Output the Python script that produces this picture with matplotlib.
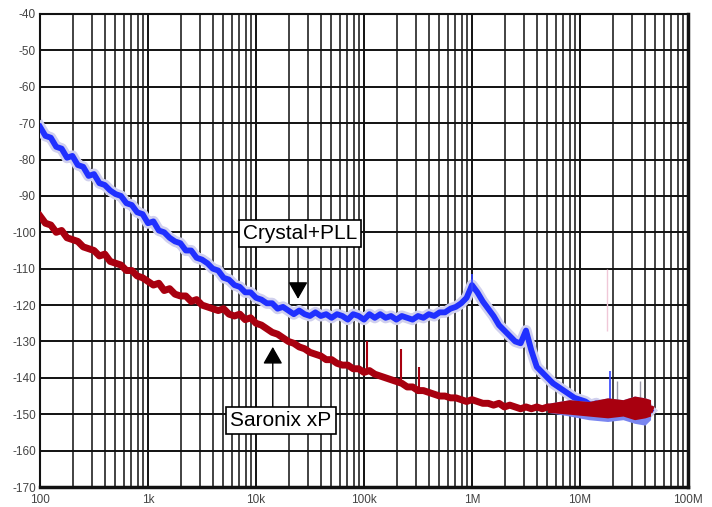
import numpy as np
import matplotlib
matplotlib.use("Agg")
import matplotlib.pyplot as plt
from matplotlib.ticker import FixedLocator, LogLocator, NullFormatter

plt.rcParams['font.family'] = ['Liberation Sans', 'DejaVu Sans']

# frequency grid, 1/20 decade steps from 100 Hz to ~45 MHz
log_f = np.round(np.arange(2.0, 7.651, 0.05), 2)
freqs = 10 ** log_f

# Crystal+PLL trace (dBc/Hz)
crystal_pll = [
    -71.0, -73.5, -74.0, -76.5, -77.0, -79.5, -79.0, -81.5, -82.0, -84.5,
    -84.0, -86.5, -87.0, -88.5, -89.5, -90.0, -92.0, -92.5, -94.5, -95.0,
    -97.5, -97.0, -99.5, -100.0, -101.5, -102.5, -103.0, -105.0, -105.0, -107.0,
    -107.5, -108.5, -110.0, -110.5, -112.5, -113.0, -114.5, -115.0, -116.5, -116.5,
    -118.0, -118.5, -119.5, -119.5, -121.0, -120.5, -121.5, -122.5, -121.5, -122.5,
    -123.0, -122.0, -123.0, -122.5, -123.5, -122.5, -123.0, -124.0, -122.5, -123.0,
    -124.0, -122.5, -123.5, -122.5, -123.5, -123.0, -124.0, -123.0, -123.5, -124.0,
    -123.0, -123.5, -122.5, -123.0, -122.0, -122.0, -121.0, -120.5, -119.5, -118.0,
    -114.5, -116.5, -119.0, -121.0, -123.0, -125.5, -127.0, -128.5, -130.0, -130.5,
    -127.0, -132.5, -137.0, -138.5, -140.0, -141.5, -142.5, -143.5, -144.5, -145.5,
    -146.0, -146.5, -147.5, -147.0, -148.5, -148.0, -149.0, -148.5, -150.0, -149.0,
    -150.0, -149.5, -150.5, -149.0,
]

# Saronix xP trace (dBc/Hz)
saronix = [
    -95.5, -97.5, -98.0, -100.0, -99.5, -101.5, -102.0, -102.5, -104.0, -104.5,
    -105.0, -106.5, -106.0, -108.0, -108.5, -109.0, -110.5, -110.5, -112.0, -112.5,
    -113.5, -114.5, -114.0, -116.0, -115.5, -117.0, -117.5, -117.5, -119.0, -118.5,
    -120.0, -120.5, -121.0, -121.5, -121.0, -122.5, -123.0, -122.5, -124.0, -123.5,
    -125.0, -125.5, -126.5, -127.5, -128.0, -129.0, -130.0, -130.5, -131.5, -132.0,
    -133.0, -133.5, -134.0, -135.0, -135.0, -136.0, -136.5, -136.5, -137.5, -137.5,
    -138.5, -138.0, -139.0, -139.5, -140.0, -140.5, -141.0, -141.5, -142.5, -142.5,
    -143.5, -143.5, -144.0, -144.5, -145.0, -145.0, -145.5, -145.5, -146.0, -146.5,
    -146.0, -146.5, -147.0, -147.0, -147.5, -147.0, -148.0, -147.5, -148.0, -148.5,
    -148.0, -148.5, -148.0, -148.5, -148.0, -148.5, -148.0, -148.5, -148.0, -148.5,
    -148.0, -149.0, -148.0, -148.5, -148.0, -149.0, -148.5, -148.0, -149.0, -148.0,
    -149.0, -148.5, -148.0, -148.5,
]

# wider noise band of both traces at the top end (5 MHz .. 45 MHz)
band_f = [5e6, 8e6, 12e6, 18e6, 25e6, 32e6, 40e6, 45e6]
red_band_hi = [-147.0, -146.0, -146.5, -145.5, -146.0, -145.0, -145.5, -146.0]
red_band_lo = [-149.5, -150.0, -150.5, -151.0, -150.5, -151.5, -151.0, -150.5]
blue_band_lo = [-149.5, -150.5, -151.5, -152.0, -151.5, -152.5, -153.0, -151.5]

# spurs
red_spur_f = [107e3, 220e3, 320e3]
red_spur_base = [-138.5, -141.0, -143.0]
red_spur_top = [-130.0, -132.0, -137.0]
blue_spur_f = [1.0e6, 19e6]
blue_spur_base = [-116.0, -148.0]
blue_spur_top = [-111.5, -138.0]
grey_spur_f = [22e6, 36e6]
grey_spur_base = [-148.0, -148.5]
grey_spur_top = [-141.0, -141.0]
pink_f = [17.6e6]
pink_lo = [-127.0]
pink_hi = [-110.0]

xticks = [1e2, 1e3, 1e4, 1e5, 1e6, 1e7, 1e8]
xticklabels = ['100', '1k', '10k', '100k', '1M', '10M', '100M']
yticks = list(range(-170, -39, 10))

fig = plt.figure(figsize=(7.12, 5.07), dpi=100)
ax = fig.add_axes([40 / 712, 1 - 487 / 507, 648 / 712, 473 / 507])

ax.set_xscale('log')
ax.set_xlim(1e2, 1e8)
ax.set_ylim(-170, -40)

ax.xaxis.set_major_locator(FixedLocator(xticks))
ax.xaxis.set_minor_locator(LogLocator(base=10, subs=np.arange(2, 10)))
ax.xaxis.set_minor_formatter(NullFormatter())
ax.set_xticklabels(xticklabels)
ax.set_yticks(yticks)
ax.set_yticklabels([str(v) for v in yticks])

ax.grid(True, which='major', color='#111111', lw=1.4)
ax.grid(True, which='minor', axis='x', color='#222222', lw=1.2)
ax.set_axisbelow(True)
ax.tick_params(which='both', length=0, labelsize=8.5, colors='#444444')
ax.tick_params(axis='x', pad=5)
ax.tick_params(axis='y', pad=3)
for s in ax.spines.values():
    s.set_color('#111111')
    s.set_linewidth(1.5)
ax.spines['bottom'].set_linewidth(2.5)
ax.spines['right'].set_linewidth(2.5)

# Crystal+PLL: light halo then blue trace
ax.plot(freqs, crystal_pll, color='#d0d0ee', lw=8, zorder=3)
ax.plot(freqs, crystal_pll, color='#2030ff', lw=4.2, zorder=4)
ax.fill_between(band_f, blue_band_lo, red_band_hi, color='#7a86f0', lw=0, zorder=4)
ax.vlines(blue_spur_f, blue_spur_base, blue_spur_top, color='#3344ff', lw=1.2, zorder=4)
ax.vlines(grey_spur_f, grey_spur_base, grey_spur_top, color='#9999aa', lw=1.0, zorder=4)
ax.vlines(pink_f, pink_lo, pink_hi, color='#f0c8d8', lw=1.0, zorder=2)

# Saronix xP
ax.plot(freqs, saronix, color='#a8000f', lw=5.0, zorder=5)
ax.fill_between(band_f, red_band_lo, red_band_hi, color='#a8000f', lw=0, zorder=5)
ax.vlines(red_spur_f, red_spur_base, red_spur_top, color='#a8000f', lw=1.5, zorder=5)

box = dict(boxstyle='square,pad=0.2', fc='white', ec='black', lw=1.2)
arrow = dict(arrowstyle='-|>,head_length=0.7,head_width=0.4', color='black',
             lw=1.0, mutation_scale=15, shrinkA=0, shrinkB=0)

ax.text(25.5e3, -100.4, 'Crystal+PLL', fontsize=15, ha='center', va='center',
        bbox=box, zorder=7)
ax.annotate('', xy=(24.5e3, -118.3), xytext=(24.5e3, -103.5),
            arrowprops=arrow, zorder=6)

ax.text(17e3, -151.7, 'Saronix xP', fontsize=15, ha='center', va='center',
        bbox=box, zorder=7)
ax.annotate('', xy=(14.3e3, -131.5), xytext=(14.3e3, -148.7),
            arrowprops=arrow, zorder=6)

fig.savefig('out.png', dpi=100, facecolor='white')
